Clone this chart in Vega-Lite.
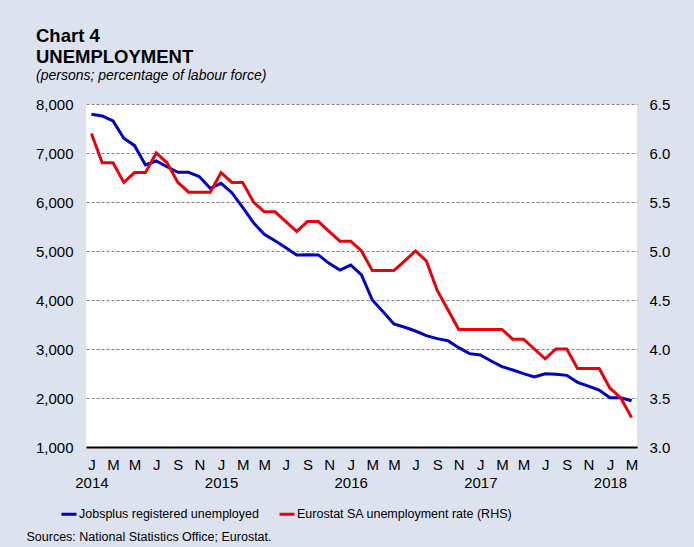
{
  "$schema": "https://vega.github.io/schema/vega-lite/v6.json",
  "autosize": "none",
  "width": 551,
  "height": 343,
  "padding": {"left": 86, "top": 104, "right": 57, "bottom": 100},
  "background": "#dce3ef",
  "config": {
    "view": {"fill": "white", "stroke": null},
    "font": "Liberation Sans"
  },
  "title": {
    "text": ["Chart 4", "UNEMPLOYMENT"],
    "subtitle": "(persons; percentage of labour force)",
    "anchor": "start",
    "frame": "group",
    "dx": -50,
    "offset": 14,
    "font": "Liberation Sans",
    "fontSize": 18.5,
    "fontWeight": "bold",
    "color": "black",
    "lineHeight": 21,
    "subtitleFont": "Liberation Sans",
    "subtitleFontSize": 14,
    "subtitleFontStyle": "italic",
    "subtitleColor": "black",
    "subtitlePadding": 3
  },
  "data": {
    "values": [
      {"m": "2014-01", "jobs": 7790, "rate": 6.2},
      {"m": "2014-02", "jobs": 7755, "rate": 5.9},
      {"m": "2014-03", "jobs": 7653, "rate": 5.9},
      {"m": "2014-04", "jobs": 7300, "rate": 5.7},
      {"m": "2014-05", "jobs": 7150, "rate": 5.8},
      {"m": "2014-06", "jobs": 6755, "rate": 5.8},
      {"m": "2014-07", "jobs": 6837, "rate": 6.0},
      {"m": "2014-08", "jobs": 6720, "rate": 5.9},
      {"m": "2014-09", "jobs": 6606, "rate": 5.7},
      {"m": "2014-10", "jobs": 6606, "rate": 5.6},
      {"m": "2014-11", "jobs": 6517, "rate": 5.6},
      {"m": "2014-12", "jobs": 6280, "rate": 5.6},
      {"m": "2015-01", "jobs": 6380, "rate": 5.8},
      {"m": "2015-02", "jobs": 6190, "rate": 5.7},
      {"m": "2015-03", "jobs": 5890, "rate": 5.7},
      {"m": "2015-04", "jobs": 5578, "rate": 5.5},
      {"m": "2015-05", "jobs": 5340, "rate": 5.4},
      {"m": "2015-06", "jobs": 5210, "rate": 5.4},
      {"m": "2015-07", "jobs": 5067, "rate": 5.3},
      {"m": "2015-08", "jobs": 4918, "rate": 5.2},
      {"m": "2015-09", "jobs": 4925, "rate": 5.3},
      {"m": "2015-10", "jobs": 4920, "rate": 5.3},
      {"m": "2015-11", "jobs": 4748, "rate": 5.2},
      {"m": "2015-12", "jobs": 4612, "rate": 5.1},
      {"m": "2016-01", "jobs": 4714, "rate": 5.1},
      {"m": "2016-02", "jobs": 4510, "rate": 5.0},
      {"m": "2016-03", "jobs": 4000, "rate": 4.8},
      {"m": "2016-04", "jobs": 3760, "rate": 4.8},
      {"m": "2016-05", "jobs": 3510, "rate": 4.8},
      {"m": "2016-06", "jobs": 3443, "rate": 4.9},
      {"m": "2016-07", "jobs": 3367, "rate": 5.0},
      {"m": "2016-08", "jobs": 3272, "rate": 4.9},
      {"m": "2016-09", "jobs": 3211, "rate": 4.6},
      {"m": "2016-10", "jobs": 3170, "rate": 4.4},
      {"m": "2016-11", "jobs": 3027, "rate": 4.2},
      {"m": "2016-12", "jobs": 2905, "rate": 4.2},
      {"m": "2017-01", "jobs": 2877, "rate": 4.2},
      {"m": "2017-02", "jobs": 2755, "rate": 4.2},
      {"m": "2017-03", "jobs": 2640, "rate": 4.2},
      {"m": "2017-04", "jobs": 2571, "rate": 4.1},
      {"m": "2017-05", "jobs": 2496, "rate": 4.1},
      {"m": "2017-06", "jobs": 2428, "rate": 4.0},
      {"m": "2017-07", "jobs": 2496, "rate": 3.9},
      {"m": "2017-08", "jobs": 2483, "rate": 4.0},
      {"m": "2017-09", "jobs": 2462, "rate": 4.0},
      {"m": "2017-10", "jobs": 2320, "rate": 3.8},
      {"m": "2017-11", "jobs": 2244, "rate": 3.8},
      {"m": "2017-12", "jobs": 2163, "rate": 3.8},
      {"m": "2018-01", "jobs": 2006, "rate": 3.6},
      {"m": "2018-02", "jobs": 2006, "rate": 3.5},
      {"m": "2018-03", "jobs": 1945, "rate": 3.3}
    ]
  },
  "encoding": {
    "x": {
      "field": "m",
      "type": "ordinal",
      "scale": {"type": "point", "padding": 0.5},
      "axis": {
        "title": "Sources: National Statistics Office; Eurostat.",
        "titleFont": "Liberation Sans",
        "titleFontSize": 12.5,
        "titleFontWeight": "normal",
        "titleColor": "black",
        "titleX": -60,
        "titleY": 93,
        "titleAlign": "left",
        "titleBaseline": "alphabetic",
        "labelExpr": "toNumber(substring(datum.value,5,7)) % 2 == 0 ? '' : (substring(datum.value,5,7) == '01' ? ['J', substring(datum.value,0,4)] : substring('JFMAMJJASOND', toNumber(substring(datum.value,5,7)) - 1, toNumber(substring(datum.value,5,7))))",
        "labelAngle": 0,
        "labelFontSize": 15,
        "labelColor": "black",
        "labelBaseline": "top",
        "labelPadding": 10,
        "labelLineHeight": 18,
        "labelOverlap": false,
        "labelBound": false,
        "ticks": false,
        "grid": false,
        "domainColor": "black",
        "domainWidth": 2
      }
    }
  },
  "layer": [
    {
      "mark": {"type": "line", "strokeWidth": 3},
      "encoding": {
        "y": {
          "field": "jobs",
          "type": "quantitative",
          "scale": {"domain": [1000, 8000], "nice": false, "zero": false},
          "axis": {
            "orient": "left",
            "title": null,
            "values": [1000, 2000, 3000, 4000, 5000, 6000, 7000, 8000],
            "format": ",d",
            "labelFontSize": 15,
            "labelColor": "black",
            "labelPadding": 13,
            "ticks": false,
            "domain": false,
            "grid": true,
            "gridColor": "#808080",
            "gridDash": [3, 2],
            "gridWidth": 1
          }
        },
        "color": {
          "datum": "Jobsplus registered unemployed",
          "scale": {
            "domain": ["Jobsplus registered unemployed", "Eurostat SA unemployment rate (RHS)"],
            "range": ["#0000c4", "#e8000a"]
          },
          "legend": {
            "orient": "none",
            "legendX": -26,
            "legendY": 401,
            "direction": "horizontal",
            "title": null,
            "symbolType": "stroke",
            "symbolStrokeWidth": 3,
            "symbolSize": 225,
            "labelFont": "Liberation Sans",
            "labelFontSize": 12.5,
            "labelColor": "black",
            "labelOffset": 1,
            "labelLimit": 400,
            "columnPadding": 14
          }
        }
      }
    },
    {
      "mark": {"type": "line", "strokeWidth": 3},
      "encoding": {
        "y": {
          "field": "rate",
          "type": "quantitative",
          "scale": {"domain": [3.0, 6.5], "nice": false, "zero": false},
          "axis": {
            "orient": "right",
            "title": null,
            "values": [3.0, 3.5, 4.0, 4.5, 5.0, 5.5, 6.0, 6.5],
            "format": ".1f",
            "labelFontSize": 15,
            "labelColor": "black",
            "labelPadding": 12,
            "ticks": false,
            "domain": false,
            "grid": false
          }
        },
        "color": {"datum": "Eurostat SA unemployment rate (RHS)"}
      }
    }
  ],
  "resolve": {"scale": {"y": "independent"}}
}
